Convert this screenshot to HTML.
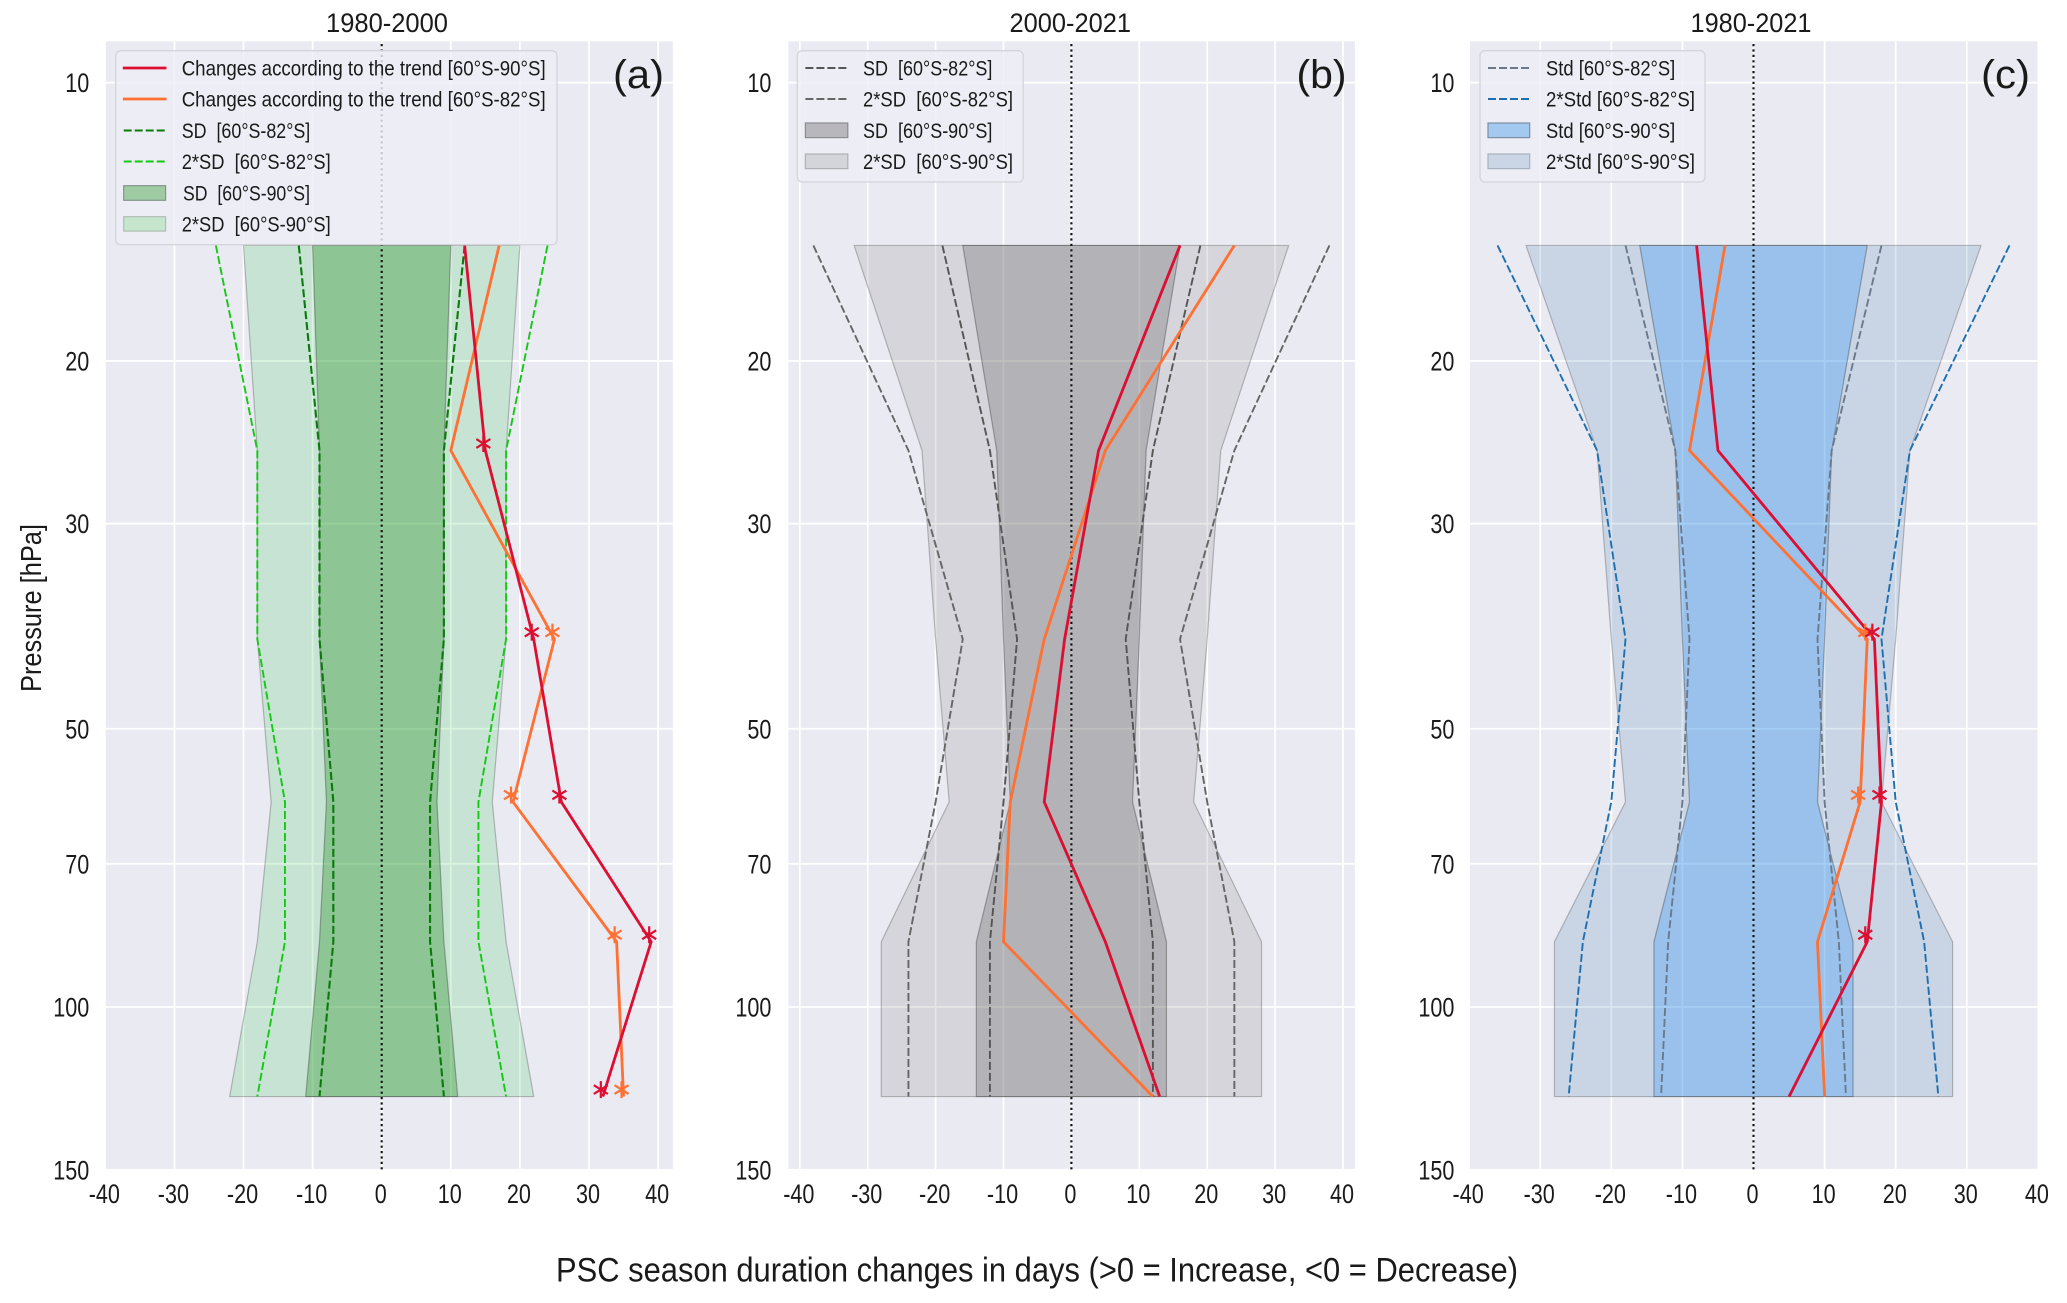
<!DOCTYPE html>
<html lang="en">
<head>
<meta charset="utf-8">
<title>PSC season duration changes</title>
<style>
html,body{margin:0;padding:0;background:#fff;}
svg{display:block;}
text{font-family:"Liberation Sans",sans-serif;fill:#1a1a1a;}
.leg{font-size:21.5px;}
</style>
</head>
<body>
<svg id="figure" xmlns="http://www.w3.org/2000/svg" width="2067" height="1303" viewBox="0 0 2067 1303">
  <rect x="0" y="0" width="2067" height="1303" fill="#ffffff"/>
  <g id="panel-a"></g>
  <g id="panel-b"></g>
  <g id="panel-c"></g>

  <text x="326" y="32" font-size="27" textLength="122" lengthAdjust="spacingAndGlyphs">1980-2000</text>
  <text x="1009.5" y="32" font-size="27" textLength="121.5" lengthAdjust="spacingAndGlyphs">2000-2021</text>
  <text x="1690.5" y="32" font-size="27" textLength="121" lengthAdjust="spacingAndGlyphs">1980-2021</text>

  <text transform="translate(41,692) rotate(-90)" font-size="29" textLength="168" lengthAdjust="spacingAndGlyphs">Pressure [hPa]</text>
  <text x="556" y="1281.5" font-size="34" textLength="962" lengthAdjust="spacingAndGlyphs">PSC season duration changes in days (&gt;0 = Increase, &lt;0 = Decrease)</text>

  <!-- legend panel a -->
  <g id="legend-a">
    <rect x="115.6" y="50.7" width="441.4" height="194" rx="5" fill="#eeeef5" fill-opacity="0.82" stroke="#d4d4da" stroke-width="1.3"/>
    <line x1="122.8" x2="166.5" y1="68" y2="68" stroke="#dc0f32" stroke-width="2.8"/>
    <text class="leg" x="181.7" y="75.5" textLength="364" lengthAdjust="spacingAndGlyphs">Changes according to the trend [60°S-90°S]</text>
    <line x1="122.8" x2="166.5" y1="99" y2="99" stroke="#ff7033" stroke-width="2.8"/>
    <text class="leg" x="181.7" y="106.5" textLength="364" lengthAdjust="spacingAndGlyphs">Changes according to the trend [60°S-82°S]</text>
    <line x1="123.7" x2="165.6" y1="130.5" y2="130.5" stroke="#0a7a0a" stroke-width="2.1" stroke-dasharray="8 3"/>
    <text class="leg" x="181.7" y="138" textLength="128.6" lengthAdjust="spacingAndGlyphs">SD&#160;&#160;[60°S-82°S]</text>
    <line x1="123.7" x2="165.6" y1="161.5" y2="161.5" stroke="#14c814" stroke-width="1.9" stroke-dasharray="8 3"/>
    <text class="leg" x="181.7" y="169" textLength="149" lengthAdjust="spacingAndGlyphs">2*SD&#160;&#160;[60°S-82°S]</text>
    <rect x="123.7" y="185.7" width="41.9" height="14.6" fill="#9fcba2" stroke="#84948a" stroke-width="1.2"/>
    <text class="leg" x="183" y="200.5" textLength="127" lengthAdjust="spacingAndGlyphs">SD&#160;&#160;[60°S-90°S]</text>
    <rect x="123.7" y="216.7" width="41.9" height="14.4" fill="#c6e5cd" stroke="#aebdb2" stroke-width="1.2"/>
    <text class="leg" x="181.7" y="231.5" textLength="149" lengthAdjust="spacingAndGlyphs">2*SD&#160;&#160;[60°S-90°S]</text>
    <text x="613" y="88" font-size="40" textLength="51" lengthAdjust="spacingAndGlyphs" fill="#000">(a)</text>
  </g>

  <!-- legend panel b -->
  <g id="legend-b">
    <rect x="797.3" y="50.7" width="225.9" height="131.3" rx="5" fill="#eeeef5" fill-opacity="0.82" stroke="#d4d4da" stroke-width="1.3"/>
    <line x1="805.4" x2="847.8" y1="68" y2="68" stroke="#555" stroke-width="1.9" stroke-dasharray="8 3"/>
    <text class="leg" x="863" y="75.5" textLength="129.4" lengthAdjust="spacingAndGlyphs">SD&#160;&#160;[60°S-82°S]</text>
    <line x1="805.4" x2="847.8" y1="99" y2="99" stroke="#666" stroke-width="1.9" stroke-dasharray="8 3"/>
    <text class="leg" x="863" y="106.5" textLength="150" lengthAdjust="spacingAndGlyphs">2*SD&#160;&#160;[60°S-82°S]</text>
    <rect x="805.4" y="123" width="42.4" height="14.6" fill="#b7b7bc" stroke="#8b8b90" stroke-width="1.2"/>
    <text class="leg" x="863" y="138" textLength="129.4" lengthAdjust="spacingAndGlyphs">SD&#160;&#160;[60°S-90°S]</text>
    <rect x="805.4" y="154" width="42.4" height="14.6" fill="#d4d5da" stroke="#b0b0b5" stroke-width="1.2"/>
    <text class="leg" x="863" y="169" textLength="150" lengthAdjust="spacingAndGlyphs">2*SD&#160;&#160;[60°S-90°S]</text>
    <text x="1296.5" y="88" font-size="40" textLength="50" lengthAdjust="spacingAndGlyphs" fill="#000">(b)</text>
  </g>

  <!-- legend panel c -->
  <g id="legend-c">
    <rect x="1480" y="50.7" width="225" height="131.3" rx="5" fill="#eeeef5" fill-opacity="0.82" stroke="#d4d4da" stroke-width="1.3"/>
    <line x1="1488" x2="1529.7" y1="68" y2="68" stroke="#6a7a8c" stroke-width="1.9" stroke-dasharray="8 3"/>
    <text class="leg" x="1546" y="75.5" textLength="129.3" lengthAdjust="spacingAndGlyphs">Std [60°S-82°S]</text>
    <line x1="1488" x2="1529.7" y1="99" y2="99" stroke="#1f6fae" stroke-width="1.9" stroke-dasharray="8 3"/>
    <text class="leg" x="1546" y="106.5" textLength="149" lengthAdjust="spacingAndGlyphs">2*Std [60°S-82°S]</text>
    <rect x="1488" y="123" width="41.7" height="14.6" fill="#a4c9f0" stroke="#7d8ea3" stroke-width="1.2"/>
    <text class="leg" x="1546" y="138" textLength="129.3" lengthAdjust="spacingAndGlyphs">Std [60°S-90°S]</text>
    <rect x="1488" y="154" width="41.7" height="14.6" fill="#cad6e6" stroke="#a9b3bf" stroke-width="1.2"/>
    <text class="leg" x="1546" y="169" textLength="149" lengthAdjust="spacingAndGlyphs">2*Std [60°S-90°S]</text>
    <text x="1981" y="88" font-size="40" textLength="49" lengthAdjust="spacingAndGlyphs" fill="#000">(c)</text>
  </g>
</svg>

<script>
// ---- shared axis data ----
const pressureLevels = [15, 25, 40, 60, 85, 125];
const xTickValues = [-40, -30, -20, -10, 0, 10, 20, 30, 40];
const xTickLabels = ['-40', '-30', '-20', '-10', '0', '10', '20', '30', '40'];
const yTickValues = [10, 20, 30, 50, 70, 100, 150];
const yTickLabels = ['10', '20', '30', '50', '70', '100', '150'];

// ---- panel (a) 1980-2000 ----
const aTrend90 = [12, 15, 22, 26, 39, 32];
const aTrend82 = [17, 10, 25, 19, 34, 35];
const aSd82 = [12, 9, 9, 7, 7, 9];
const aTwoSd82 = [24, 18, 18, 14, 14, 18];
const aSd90 = [10, 9, 9, 8, 9, 11];
const aTwoSd90 = [20, 18, 18, 16, 18, 22];
const aStars90 = [25, 40, 60, 85, 125];
const aStars82 = [40, 60, 85, 125];

// ---- panel (b) 2000-2021 ----
const bTrend90 = [16, 4, -1, -4, 5, 13];
const bTrend82 = [24, 5, -4, -9, -10, 12];
const bSd82 = [19, 12, 8, 10, 12, 12];
const bTwoSd82 = [38, 24, 16, 20, 24, 24];
const bSd90 = [16, 11, 10, 9, 14, 14];
const bTwoSd90 = [32, 22, 20, 18, 28, 28];
const bStars90 = [];
const bStars82 = [];

// ---- panel (c) 1980-2021 ----
const cTrend90 = [-8, -5, 17, 18, 16, 5];
const cTrend82 = [-4, -9, 16, 15, 9, 10];
const cSd82 = [18, 11, 9, 10, 12, 13];
const cTwoSd82 = [36, 22, 18, 20, 24, 26];
const cSd90 = [16, 11, 10, 9, 14, 14];
const cTwoSd90 = [32, 22, 20, 18, 28, 28];
const cStars90 = [40, 60, 85];
const cStars82 = [40, 60];

const SVGNS = 'http://www.w3.org/2000/svg';
const axisTop = 41.3, axisBottom = 1169.9;

function yScale(p) { return 82.7 + 924.3 * Math.log10(p / 10); }

function makeX(x0, unit) { return function (v) { return x0 + unit * v; }; }

function addEl(parent, tag, attrs, name) {
  const el = document.createElementNS(SVGNS, tag);
  for (const k in attrs) el.setAttribute(k, attrs[k]);
  
  
  parent.appendChild(el);
  return el;
}

function drawFrame(g, xs, left, right, labelRight, id) {
  addEl(g, 'rect', { x: left, y: axisTop, width: right - left, height: axisBottom - axisTop, fill: '#eaeaf2' }, id + '-plot-area');
  xTickValues.forEach(function (v, i) {
    const px = xs(v);
    if (px >= left - 0.2 && px <= right + 0.2) {
      addEl(g, 'line', { x1: px, x2: px, y1: axisTop, y2: axisBottom, stroke: '#ffffff', 'stroke-width': 1.7 }, id + '-x-gridline');
    }
    const t = addEl(g, 'text', { transform: 'translate(' + (px - 1) + ',1203) scale(0.8,1)', 'font-size': 27, 'text-anchor': 'middle' }, id + '-x-tick-label');
    t.textContent = xTickLabels[i];
  });
  yTickValues.forEach(function (v, i) {
    const py = yScale(v);
    addEl(g, 'line', { x1: left, x2: right, y1: py, y2: py, stroke: '#ffffff', 'stroke-width': 1.8 }, id + '-y-gridline');
    const t = addEl(g, 'text', { transform: 'translate(' + labelRight + ',' + (py + 9.5) + ') scale(0.8,1)', 'font-size': 27, 'text-anchor': 'end' }, id + '-y-tick-label');
    t.textContent = yTickLabels[i];
  });
}

function band(g, xs, half, fill, opacity, stroke, name) {
  const right = half.map(function (v, i) { return xs(v) + ',' + yScale(pressureLevels[i]); });
  const left = half.map(function (v, i) { return xs(-v) + ',' + yScale(pressureLevels[i]); }).reverse();
  addEl(g, 'polygon', { points: right.concat(left).join(' '), fill: fill, 'fill-opacity': opacity, stroke: stroke, 'stroke-width': 1.2 }, name);
}

function polyline(g, xs, vals, sign, attrs, name) {
  const pts = vals.map(function (v, i) { return xs(sign * v) + ',' + yScale(pressureLevels[i]); }).join(' ');
  const a = { points: pts, fill: 'none', 'stroke-linejoin': 'round' };
  for (const k in attrs) a[k] = attrs[k];
  addEl(g, 'polyline', a, name);
}

function dashedPair(g, xs, vals, color, width, name) {
  const st = { stroke: color, 'stroke-width': width, 'stroke-dasharray': '8 3' };
  polyline(g, xs, vals, 1, st, name + '-right');
  polyline(g, xs, vals, -1, st, name + '-left');
}

function stars(g, xs, vals, levels, color, name) {
  levels.forEach(function (p) {
    const i = pressureLevels.indexOf(p);
    const cx = xs(vals[i]) - 2, cy = yScale(p) - 7;
    const d = 'M' + cx + ' ' + (cy - 8.5) + 'V' + (cy + 8.5) +
      'M' + (cx - 7) + ' ' + (cy - 4.4) + 'L' + (cx + 7) + ' ' + (cy + 4.4) +
      'M' + (cx - 7) + ' ' + (cy + 4.4) + 'L' + (cx + 7) + ' ' + (cy - 4.4);
    addEl(g, 'path', { d: d, stroke: color, 'stroke-width': 2.2, fill: 'none' }, name);
  });
}

function drawPanel(id, geom, d) {
  const g = document.getElementById(id);
  const xs = makeX(geom.x0, geom.unit);
  drawFrame(g, xs, geom.left, geom.right, geom.labelRight, id);
  band(g, xs, d.twoSd90, d.twoFill, d.twoOpacity, 'rgba(90,90,90,0.38)', id + '-two-sd-band-90s');
  band(g, xs, d.sd90, d.sdFill, d.sdOpacity, 'rgba(60,60,60,0.4)', id + '-sd-band-90s');
  dashedPair(g, xs, d.sd82, d.sdColor, d.sdWidth, id + '-sd-line-82s');
  dashedPair(g, xs, d.twoSd82, d.twoColor, d.twoWidth, id + '-two-sd-line-82s');
  addEl(g, 'line', { x1: xs(0), x2: xs(0), y1: 44, y2: axisBottom, stroke: '#111', 'stroke-width': 2.1, 'stroke-dasharray': '2.2 3.2' }, id + '-zero-line');
  polyline(g, xs, d.trend82, 1, { stroke: '#ff7033', 'stroke-width': 2.8 }, id + '-trend-line-82s');
  polyline(g, xs, d.trend90, 1, { stroke: '#dc0f32', 'stroke-width': 2.8 }, id + '-trend-line-90s');
  stars(g, xs, d.trend82, d.stars82, '#ff7033', id + '-significance-star-82s');
  stars(g, xs, d.trend90, d.stars90, '#dc0f32', id + '-significance-star-90s');
}

drawPanel('panel-a', { x0: 381.7, unit: 6.91, left: 105.8, right: 672.8, labelRight: 89.3 }, {
  trend90: aTrend90, trend82: aTrend82, sd82: aSd82, twoSd82: aTwoSd82, sd90: aSd90, twoSd90: aTwoSd90,
  stars90: aStars90, stars82: aStars82,
  twoFill: 'rgb(60,200,90)', twoOpacity: 0.2, sdFill: 'rgb(34,139,34)', sdOpacity: 0.35,
  sdColor: '#0a7a0a', sdWidth: 2.1, twoColor: '#14c814', twoWidth: 1.9
});
drawPanel('panel-b', { x0: 1071.4, unit: 6.79, left: 788.4, right: 1354.9, labelRight: 771.4 }, {
  trend90: bTrend90, trend82: bTrend82, sd82: bSd82, twoSd82: bTwoSd82, sd90: bSd90, twoSd90: bTwoSd90,
  stars90: bStars90, stars82: bStars82,
  twoFill: 'rgb(128,128,128)', twoOpacity: 0.2, sdFill: 'rgb(100,100,100)', sdOpacity: 0.3,
  sdColor: '#555555', sdWidth: 1.9, twoColor: '#666666', twoWidth: 1.9
});
drawPanel('panel-c', { x0: 1753.5, unit: 7.11, left: 1470, right: 2037.4, labelRight: 1454.4 }, {
  trend90: cTrend90, trend82: cTrend82, sd82: cSd82, twoSd82: cTwoSd82, sd90: cSd90, twoSd90: cTwoSd90,
  stars90: cStars90, stars82: cStars82,
  twoFill: 'rgb(70,130,180)', twoOpacity: 0.2, sdFill: 'rgb(30,144,255)', sdOpacity: 0.28,
  sdColor: '#6a7a8c', sdWidth: 1.9, twoColor: '#1f6fae', twoWidth: 1.9
});
</script>
</body>
</html>
